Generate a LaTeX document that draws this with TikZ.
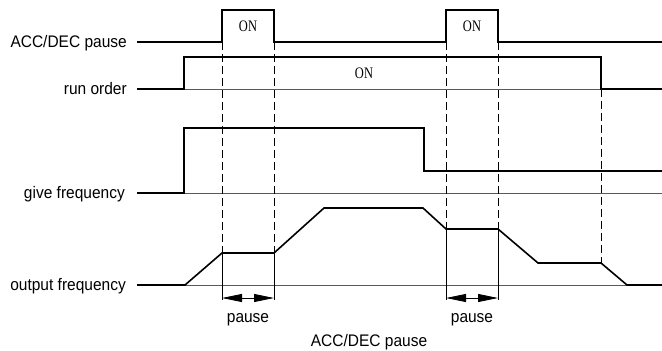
\documentclass[tikz,border=0pt]{standalone}
\usepackage{fontspec}
\setmainfont{Liberation Sans}
\newfontfamily\onfont{Liberation Serif}
\usetikzlibrary{arrows.meta}
\begin{document}
\begin{tikzpicture}[x=1pt,y=-1pt,
  sig/.style={line width=1.6pt, line join=miter},
  acc/.style={line width=1.3pt, line join=miter},
  base/.style={line width=0.9pt, black!65},
  guide/.style={line width=0.8pt, dash pattern=on 8pt off 4pt},
  vline/.style={line width=0.8pt},
  lab/.style={font=\fontsize{15.5}{16}\selectfont, anchor=base east, inner sep=0, yscale=1.08},
  txt/.style={font=\fontsize{15.5}{16}\selectfont, inner sep=0, yscale=1.08},
  onlab/.style={font=\onfont\fontsize{16}{16}\selectfont, inner sep=0, xscale=0.78},
  dim/.style={line width=0.8pt, {Triangle[length=20pt,width=8pt]}-{Triangle[length=20pt,width=8pt]}},
]
\useasboundingbox (0,0) rectangle (662,351);

% labels
\node[lab] (lacc) at (127,47) {ACC/DEC pause};
\node[lab] (lrun) at (127,94) {run order};
\node[lab] (lgive) at (125,198) {give frequency};
\node[lab] (lout) at (126,290) {output frequency};

% ACC/DEC pause signal
\draw[acc] (137,42) -- (222,42) -- (222,10) -- (274,10) -- (274,42) -- (446,42)
  -- (446,10) -- (498,10) -- (498,42) -- (662,42);
\node[onlab] (on1) at (248,26) {ON};
\node[onlab] (on2) at (472,26) {ON};

% run order
\draw[base] (184,89) -- (601,89);
\draw[sig] (137,89) -- (184,89) -- (184,57) -- (601,57) -- (601,89) -- (662,89);
\node[onlab] (on3) at (364,73) {ON};

% give frequency
\draw[base] (184,193) -- (662,193);
\draw[sig] (137,193) -- (184,193) -- (184,128) -- (424,128) -- (424,171) -- (662,171);

% output frequency
\draw[base] (185,285) -- (627,285);
\draw[sig] (137,285) -- (185,285) -- (222,253) -- (274,253) -- (324,208) -- (423,208)
  -- (446,229) -- (498,229) -- (538,263) -- (601,263) -- (627,285) -- (662,285);

% guide coordinates
\coordinate (a1t) at (222,42);  \coordinate (a1m) at (222,253); \coordinate (a1b) at (222,300);
\coordinate (a2t) at (274,42);  \coordinate (a2m) at (274,253); \coordinate (a2b) at (274,300);
\coordinate (b1t) at (446,42);  \coordinate (b1m) at (446,229); \coordinate (b1b) at (446,300);
\coordinate (b2t) at (498,42);  \coordinate (b2m) at (498,229); \coordinate (b2b) at (498,300);
\coordinate (ct) at (601,89);   \coordinate (cm) at (601,263);

\draw[guide] (a1t) -- (a1m);
\draw[guide] (a2t) -- (a2m);
\draw[guide] (b1t) -- (b1m);
\draw[guide] (b2t) -- (b2m);
\draw[guide] (ct) -- (cm);
\draw[vline] (a1m) -- (a1b);
\draw[vline] (a2m) -- (a2b);
\draw[vline] (b1m) -- (b1b);
\draw[vline] (b2m) -- (b2b);

% dimension arrows
\coordinate (d1l) at (222,298); \coordinate (d1r) at (274,298);
\coordinate (d2l) at (446,298); \coordinate (d2r) at (498,298);
\draw[dim] (d1l) -- (d1r);
\draw[dim] (d2l) -- (d2r);

\node[txt] (p1) at (248,320) {pause};
\node[txt] (p2) at (472,320) {pause};
\node[txt] (acctitle) at (369,342) {ACC/DEC pause};
\end{tikzpicture}
\end{document}
